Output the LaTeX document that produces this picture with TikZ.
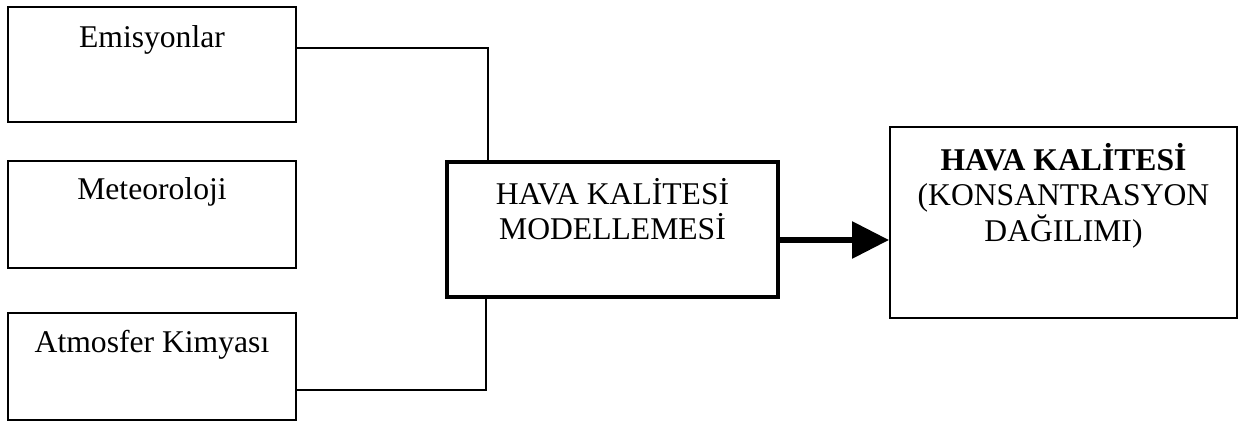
\documentclass[tikz,border=0pt]{standalone}
\usepackage{fontspec}
\setmainfont{Liberation Serif}
\usetikzlibrary{arrows.meta}

\begin{document}
\begin{tikzpicture}[
    every node/.style={font=\fontsize{18}{20}\selectfont},
    inbox/.style={draw, line width=1.1pt, minimum width=5.76cm, minimum height=2.14cm, inner sep=0pt},
    boxtext/.style={anchor=base, align=center, inner sep=0pt}
  ]
    \useasboundingbox (0, 0) rectangle (24.82, 8.46);
    % input boxes
    \node[inbox, minimum height=2.30cm](emis) at (3.04, 7.17) {};
    \node[inbox](meteo) at (3.04, 4.17) {};
    \node[inbox](atmos) at (3.04, 1.13) {};
    \node[boxtext](emist) at ([yshift=-0.82cm]emis.north) {Emisyonlar};
    \node[boxtext](meteot) at ([yshift=-0.78cm]meteo.north) {Meteoroloji};
    \node[boxtext](atmost) at ([yshift=-0.80cm]atmos.north) {Atmosfer Kimyası};
    % model box
    \node[draw, line width=2.8pt, minimum width=6.62cm, minimum height=2.70cm, inner sep=0pt](model) at (12.25, 3.87) {};
    \node[boxtext](modelt) at ([yshift=-1.60cm]model.north) {HAVA KALİTESİ\\MODELLEMESİ};
    % result box
    \node[draw, line width=1.1pt, minimum width=6.94cm, minimum height=3.82cm, inner sep=0pt](result) at (21.27, 4.01) {};
    \node[boxtext](resultt) at ([yshift=-2.30cm]result.north) {\textbf{HAVA KALİTESİ}\\(KONSANTRASYON\\DAĞILIMI)};
    % connectors
    \draw[line width=0.8pt] ([yshift=0.33cm]emis.east) -| ([xshift=-2.49cm]model.north);
    \draw[line width=0.8pt] ([yshift=-0.47cm]atmos.east) -| ([xshift=-2.53cm]model.south);
    \draw[line width=0.12cm, -{Triangle[length=0.74cm, width=0.72cm]}] ([yshift=-0.21cm]model.east) -- ([yshift=-0.21cm]model.east -| result.west);
  \end{tikzpicture}
\end{document}
